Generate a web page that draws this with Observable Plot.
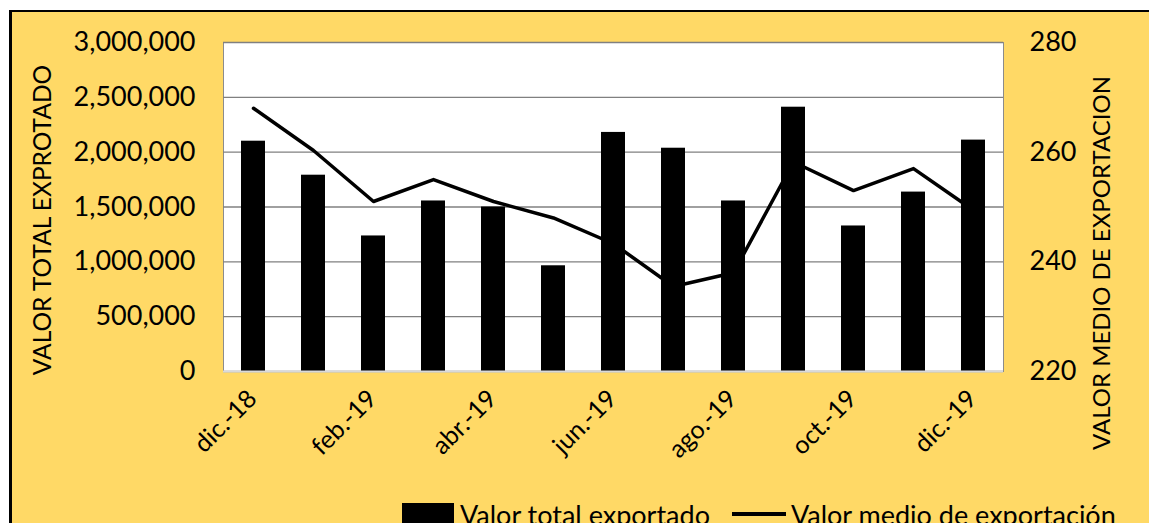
<!DOCTYPE html>
<html>
<head>
<meta charset="utf-8">
<script src="https://cdn.jsdelivr.net/npm/d3@7"></script>
<script src="https://cdn.jsdelivr.net/npm/@observablehq/plot@0.6"></script>
<style>
  html, body { margin: 0; padding: 0; width: 1149px; height: 523px; overflow: hidden; background: #fff; }
  #title { position: absolute; left: 10px; top: -29px; height: 30px; line-height: 30px; font: bold 25px Lato, sans-serif; white-space: nowrap; color: #000; }
  #panel { position: absolute; left: 9px; top: 10px; width: 1200px; height: 600px; background: #FFD966; border-left: 3px solid #000; border-top: 2px solid #000; box-sizing: border-box; }
  #chart { position: absolute; left: 0; top: 0; }
  #legend { position: absolute; left: 402px; top: 499px; height: 30px; display: flex; align-items: center; font: 27px Lato, sans-serif; color: #000; white-space: nowrap; }
  .sw-bar { width: 52px; height: 22px; background: #000; margin-right: 6px; }
  .sw-line { width: 54px; height: 4px; background: #000; margin: 0 5px 0 22px; }
</style>
</head>
<body>
<div id="panel"></div>
<div id="title">Figura 3. Valor total de las exportaciones (USD) y valor medio de exportación (USD)</div>
<div id="chart"></div>
<div id="legend"><div class="sw-bar"></div><span>Valor total exportado</span><div class="sw-line"></div><span>Valor medio de exportación</span></div>
<script>
const months = ["dic.-18","ene.-19","feb.-19","mar.-19","abr.-19","may.-19","jun.-19","jul.-19","ago.-19","sep.-19","oct.-19","nov.-19","dic.-19"];
const totals = [2100000,1790000,1236000,1555000,1500000,964000,2180000,2036000,1555000,2410000,1327000,1636000,2110000];
const means = [268,260.3,251,255,251,248,243.3,235.5,238,258.2,253,257,249.4];
const leftTicks = [0,500000,1000000,1500000,2000000,2500000,3000000];
const rightTicks = [220,240,260,280];
const xTickLabels = months.filter((d, i) => i % 2 === 0);
const leftLabel = "VALOR TOTAL EXPROTADO";
const rightLabel = "VALOR MEDIO DE EXPORTACION";

const L0 = 0, L1 = 3000000, R0 = 220, R1 = 280;
const toLeft = v => L0 + (v - R0) / (R1 - R0) * (L1 - L0);
const data = months.map((m, i) => ({month: m, total: totals[i], mean: means[i]}));

const chart = Plot.plot({
  width: 1149,
  height: 523,
  marginLeft: 223,
  marginRight: 146,
  marginTop: 42,
  marginBottom: 152,
  style: {background: "transparent", fontFamily: "Lato, sans-serif", fontSize: "27px", color: "#000", overflow: "visible"},
  x: {domain: months, paddingInner: 0.6, paddingOuter: 0.3, axis: null, label: null},
  y: {domain: [L0, L1], axis: null, label: null},
  marks: [
    Plot.frame({fill: "white", stroke: "#8c8c8c"}),
    Plot.gridY(leftTicks, {stroke: "#808080", strokeOpacity: 1, strokeWidth: 1.3}),
    Plot.barY(data, {x: "month", y: "total", fill: "#000"}),
    Plot.ruleY([0], {stroke: "#d9d9d9", strokeWidth: 2}),
    Plot.line(data, {x: "month", y: d => toLeft(d.mean), stroke: "#000", strokeWidth: 3.5}),
    Plot.axisY(leftTicks, {anchor: "left", tickSize: 0, tickPadding: 28, tickFormat: d3.format(","), fontSize: 27, label: null}),
    Plot.axisY(rightTicks.map(toLeft), {anchor: "right", tickSize: 0, tickPadding: 26, tickFormat: (d, i) => rightTicks[i], fontSize: 27, label: null}),
    Plot.axisX(xTickLabels, {anchor: "bottom", tickSize: 0, tickPadding: 23, dx: -1, tickRotate: -45, fontSize: 25, label: null}),
    Plot.text([leftLabel], {frameAnchor: "left", rotate: -90, textAnchor: "middle", dx: -180, dy: 13, fontSize: 24.5, text: d => d}),
    Plot.text([rightLabel], {frameAnchor: "right", rotate: -90, textAnchor: "middle", dx: 99, dy: 56, fontSize: 24, text: d => d})
  ]
});
document.getElementById("chart").appendChild(chart);
</script>
</body>
</html>
